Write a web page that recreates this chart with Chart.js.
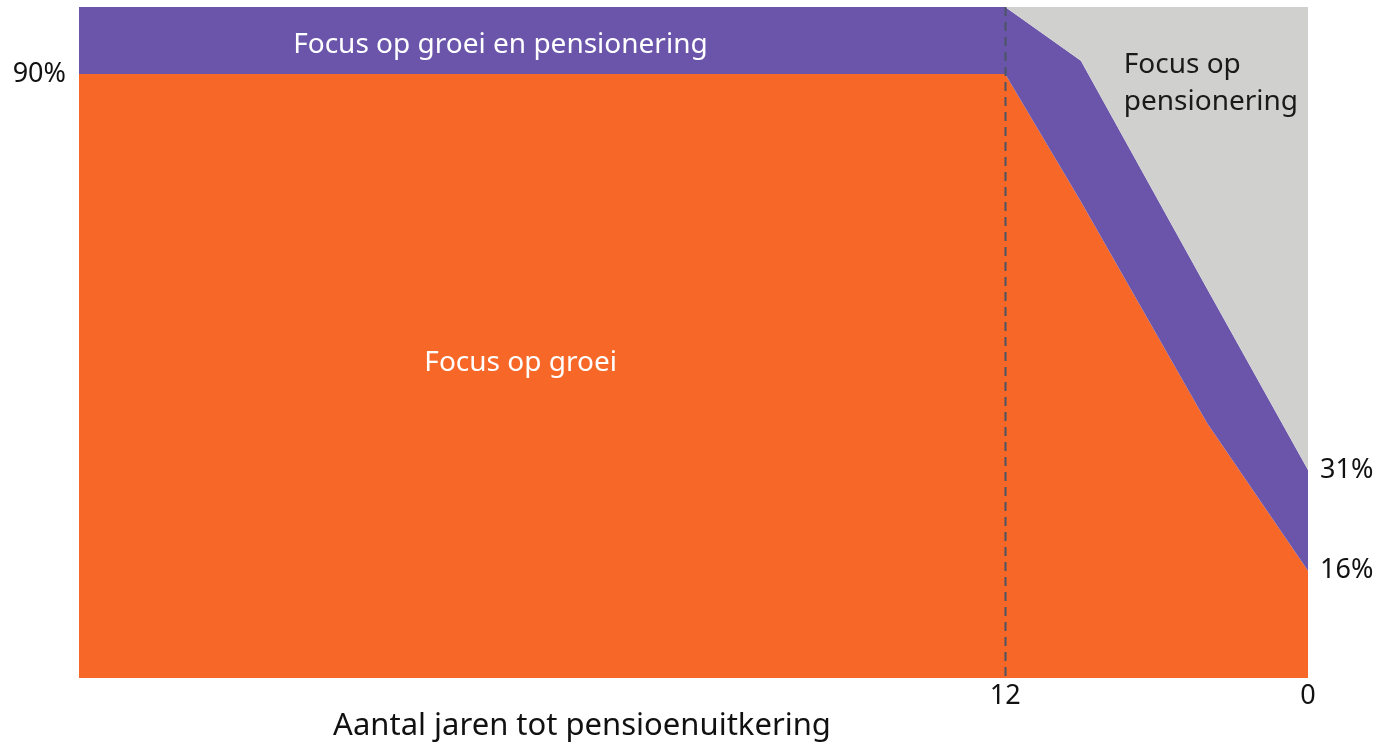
<!DOCTYPE html>
<html>
<head>
<meta charset="utf-8">
<script src="https://cdn.jsdelivr.net/npm/chart.js@4"></script>
<style>
  html, body { margin: 0; padding: 0; background: #fff; }
  #wrap { width: 1373px; height: 742px; }
</style>
</head>
<body>
<div id="wrap"><canvas id="glidepath"></canvas></div>
<script>
// years to retirement (x) and share in % (y)
const years = [48.7, 12, 9, 4, 0];
const growth = [90, 90, 71, 38, 16];          // focus op groei
const growthPension = [100, 100, 92, 58, 31]; // focus op groei en pensionering (top edge)
const total = [100, 100, 100, 100, 100];       // focus op pensionering (top edge)
const xTicks = [12, 0];
const leftTicks = [90];
const rightTicks = [31, 16];

const FONT = "'Noto Sans', sans-serif";

function toPoints(arr) {
  return years.map((x, i) => ({ x: x, y: arr[i] }));
}

// draws the dashed line, area labels and the axis title
const extras = {
  id: "extras",
  afterDatasetsDraw(chart) {
    const ctx = chart.ctx;
    const xs = chart.scales.x;
    const ys = chart.scales.y;
    const area = chart.chartArea;

    // dashed line at 12 years
    const x12 = Math.round(xs.getPixelForValue(12)) + 0.5;
    ctx.save();
    ctx.strokeStyle = "#4b5565";
    ctx.lineWidth = 2;
    ctx.setLineDash([9, 6]);
    ctx.beginPath();
    ctx.moveTo(x12, area.top);
    ctx.lineTo(x12, area.bottom);
    ctx.stroke();
    ctx.restore();

    ctx.save();
    ctx.textBaseline = "middle";
    ctx.font = "28px " + FONT;
    ctx.fillStyle = "#ffffff";
    ctx.textAlign = "center";
    ctx.fillText("Focus op groei en pensionering", xs.getPixelForValue(32), ys.getPixelForValue(94.4));
    ctx.fillText("Focus op groei", xs.getPixelForValue(31.2), ys.getPixelForValue(46.9));
    ctx.fillStyle = "#1a1a1a";
    ctx.textAlign = "left";
    ctx.fillText("Focus op", xs.getPixelForValue(7.3), ys.getPixelForValue(91.4));
    ctx.fillText("pensionering", xs.getPixelForValue(7.3), ys.getPixelForValue(85.8));

    // axis title
    ctx.font = "31px " + FONT;
    ctx.textAlign = "center";
    ctx.fillStyle = "#111111";
    ctx.fillText("Aantal jaren tot pensioenuitkering", 582, 726);
    ctx.restore();
  }
};

function makeChart() {
  const ctx = document.getElementById("glidepath").getContext("2d");

  const data = {
    datasets: [
      {
        label: "Focus op groei",
        data: toPoints(growth),
        backgroundColor: "#f76727",
        borderWidth: 0,
        pointRadius: 0,
        fill: "origin",
        order: 3,
      },
      {
        label: "Focus op groei en pensionering",
        data: toPoints(growthPension),
        backgroundColor: "#6a55ab",
        borderWidth: 0,
        pointRadius: 0,
        fill: "-1",
        order: 2,
      },
      {
        label: "Focus op pensionering",
        data: toPoints(total),
        backgroundColor: "#d0d0cf",
        borderWidth: 0,
        pointRadius: 0,
        fill: "-1",
        order: 1,
      },
    ],
  };

  const tickFont = { family: FONT, size: 27 };

  const config = {
    type: "line",
    data: data,
    options: {
      responsive: true,
      maintainAspectRatio: false,
      animation: false,
      layout: { padding: { top: 7, left: 0, right: 0, bottom: 0 } },
      plugins: {
        legend: { display: false },
        tooltip: { enabled: false },
      },
      scales: {
        x: {
          type: "linear",
          reverse: true,
          min: 0,
          max: 48.7,
          grid: { display: false },
          border: { display: false },
          afterBuildTicks: (s) => { s.ticks = xTicks.map((v) => ({ value: v })); },
          afterFit: (s) => { s.height = 64; s.paddingLeft = 0; s.paddingRight = 0; },
          ticks: { color: "#111", font: tickFont, padding: -6, maxRotation: 0, autoSkip: false },
        },
        y: {
          position: "left",
          min: 0,
          max: 100,
          grid: { display: false },
          border: { display: false },
          afterBuildTicks: (s) => { s.ticks = leftTicks.map((v) => ({ value: v })); },
          afterFit: (s) => { s.width = 79; s.paddingTop = 0; s.paddingBottom = 0; },
          ticks: { color: "#111", font: tickFont, padding: 5, callback: (v) => v + "%" },
        },
        y2: {
          position: "right",
          min: 0,
          max: 100,
          grid: { display: false },
          border: { display: false },
          afterBuildTicks: (s) => { s.ticks = rightTicks.map((v) => ({ value: v })); },
          afterFit: (s) => { s.width = 65; s.paddingTop = 0; s.paddingBottom = 0; },
          ticks: { color: "#111", font: tickFont, padding: 4, callback: (v) => v + "%" },
        },
      },
    },
    plugins: [extras],
  };

  new Chart(ctx, config);
}

makeChart();
</script>
</body>
</html>
